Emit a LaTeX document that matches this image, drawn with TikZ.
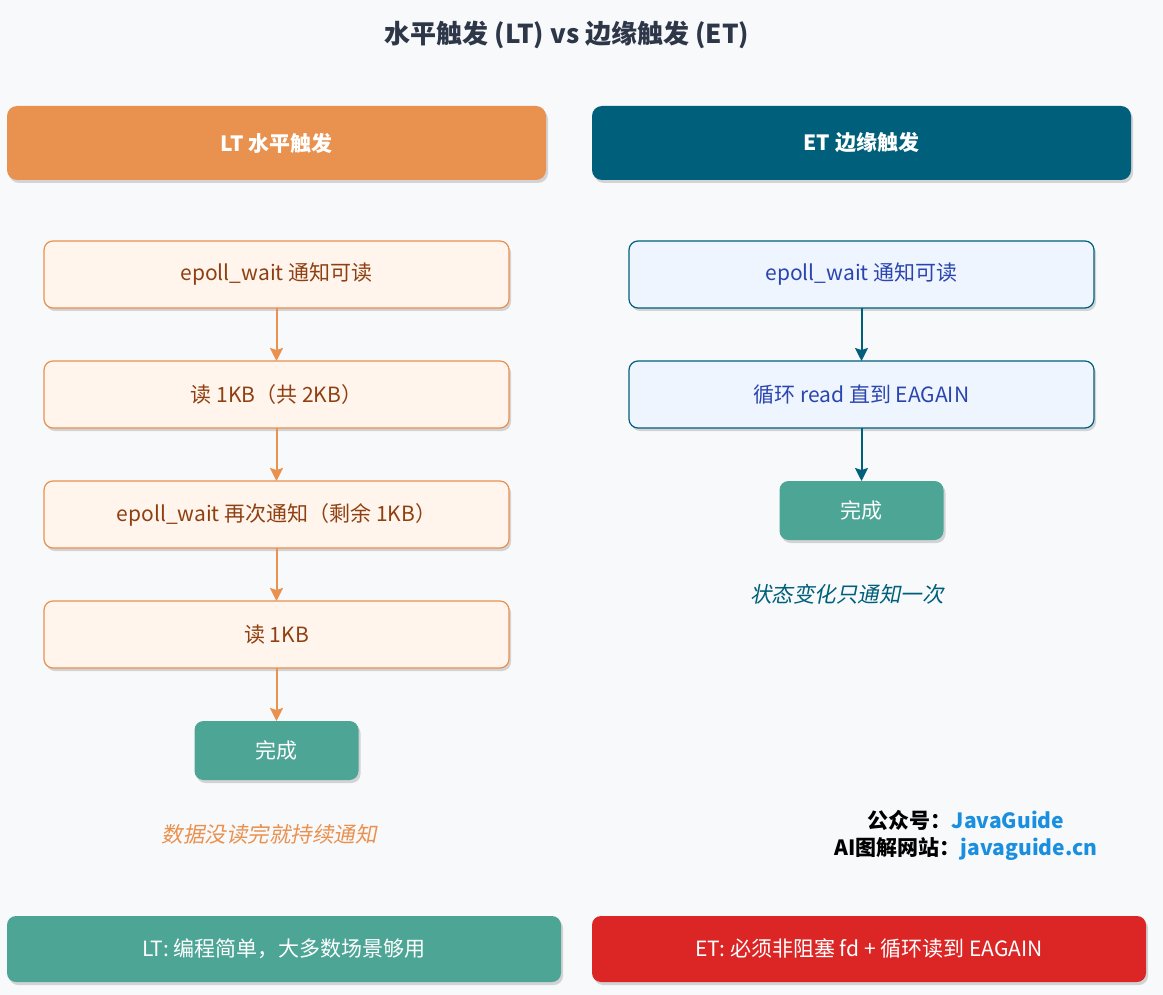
\documentclass[tikz,border=0pt]{standalone}
\usepackage{fontspec}
\setmainfont{Noto Sans CJK SC}
\newfontfamily\slantfont[FakeSlant=0.2]{Noto Sans CJK SC}
\usetikzlibrary{positioning, arrows.meta, shadows}
\definecolor{bgcol}{HTML}{F8F9FB}
\definecolor{ltorange}{HTML}{E9914F}
\definecolor{ltfill}{HTML}{FFF5EC}
\definecolor{lttext}{HTML}{8F4012}
\definecolor{etblue}{HTML}{005F7A}
\definecolor{etfill}{HTML}{EEF5FF}
\definecolor{ettext}{HTML}{2B45AE}
\definecolor{donegreen}{HTML}{4DA596}
\definecolor{warnred}{HTML}{DC2626}
\definecolor{linkblue}{HTML}{1A8FE0}
\definecolor{titlecol}{HTML}{2D3748}

\begin{document}
\begin{tikzpicture}[
    x=1pt, y=1pt,
    shade/.style={drop shadow={shadow xshift=2pt, shadow yshift=-3pt, opacity=0.15, fill=black}},
    head/.style={shade, rounded corners=10pt, minimum width=539pt, minimum height=74pt, text=white, font=\fontsize{21}{25}\selectfont\bfseries},
    ltbox/.style={shade, draw=ltorange, fill=ltfill, line width=1.2pt, outer sep=0pt, rounded corners=9pt, minimum width=465pt, minimum height=67pt, text=lttext, font=\fontsize{21}{25}\selectfont},
    etbox/.style={shade, draw=etblue, fill=etfill, line width=1.2pt, outer sep=0pt, rounded corners=9pt, minimum width=465pt, minimum height=67pt, text=ettext, font=\fontsize{21}{25}\selectfont},
    donebox/.style={shade, fill=donegreen, outer sep=0pt, rounded corners=9pt, minimum width=164pt, minimum height=59pt, text=white, font=\fontsize{21}{25}\selectfont},
    note/.style={font=\slantfont\fontsize{21.5}{25}\selectfont},
    foot/.style={shade, rounded corners=9pt, minimum width=554pt, minimum height=66pt, text=white, font=\fontsize{21}{25}\selectfont},
    ltarr/.style={-{Stealth[length=13pt, width=13pt, inset=2pt]}, line width=2pt, draw=ltorange},
    etarr/.style={-{Stealth[length=13pt, width=13pt, inset=2pt]}, line width=2pt, draw=etblue}
]
    \fill[bgcol] (0,0) rectangle (1163,-995);
    \useasboundingbox (0,0) rectangle (1163,-995);

    \node[text=titlecol, font=\fontsize{26}{30}\selectfont\bfseries] (title) at (567,-35) {水平触发 (LT) vs 边缘触发 (ET)};

    % LT column
    \node[head, fill=ltorange] (lthead) at (276.5,-143) {LT 水平触发};
    \node[ltbox] (lt1) at (276.5,-274.5) {epoll\_wait 通知可读};
    \node[ltbox] (lt2) [below=53pt of lt1] {读 1KB（共 2KB）};
    \node[ltbox] (lt3) [below=53pt of lt2] {epoll\_wait 再次通知（剩余 1KB）};
    \node[ltbox] (lt4) [below=53pt of lt3] {读 1KB};
    \node[donebox] (ltdone) [below=53pt of lt4] {完成};

    \draw[ltarr] (lt1) -- (lt2);
    \draw[ltarr] (lt2) -- (lt3);
    \draw[ltarr] (lt3) -- (lt4);
    \draw[ltarr] (lt4) -- (ltdone);

    \node[note, text=ltorange] (ltnote) at (269,-834) {数据没读完就持续通知};

    % ET column
    \node[head, fill=etblue] (ethead) at (861.5,-143) {ET 边缘触发};
    \node[etbox] (et1) at (861.5,-274.5) {epoll\_wait 通知可读};
    \node[etbox] (et2) [below=53pt of et1] {循环 read 直到 EAGAIN};
    \node[donebox] (etdone) [below=53pt of et2] {完成};

    \draw[etarr] (et1) -- (et2);
    \draw[etarr] (et2) -- (etdone);

    \node[note, text=etblue] (etnote) at (847,-594) {状态变化只通知一次};

    % credit
    \node[align=center, font=\fontsize{21}{27}\selectfont\bfseries] (credit) at (966,-835)
        {公众号：{\color{linkblue}JavaGuide}\\AI图解网站：{\color{linkblue}javaguide.cn}};

    % summary
    \node[foot, fill=donegreen] (ltfoot) at (284,-949) {LT: 编程简单，大多数场景够用};
    \node[foot, fill=warnred] (etfoot) at (869,-949) {ET: 必须非阻塞 fd + 循环读到 EAGAIN};
\end{tikzpicture}
\end{document}
